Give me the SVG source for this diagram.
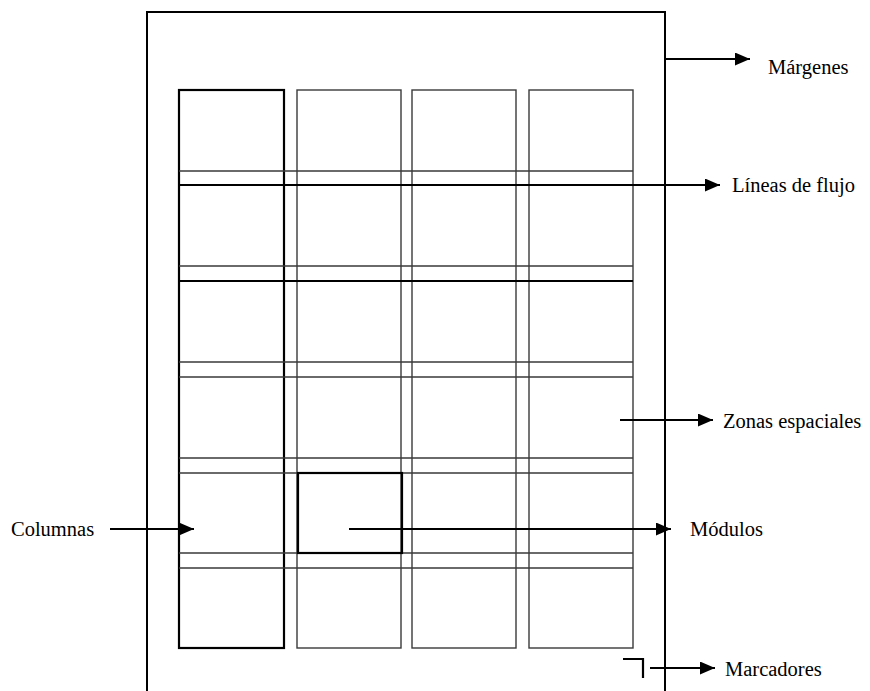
<svg xmlns="http://www.w3.org/2000/svg" width="870" height="691" viewBox="0 0 870 691">
<style>
.bg{fill:#fff}
.thin{fill:none;stroke:#3a3a3a;stroke-width:1.4}
.thick{fill:none;stroke:#000;stroke-width:2.2}
.frame{fill:none;stroke:#000;stroke-width:2}
.conn{fill:none;stroke:#000;stroke-width:2}
.lbl{font-family:"Liberation Serif","Times New Roman",serif;font-size:20.5px;fill:#000}
</style>
<defs>
<marker id="ah" markerWidth="15" markerHeight="13" refX="15" refY="6.5" orient="auto" markerUnits="userSpaceOnUse">
<path d="M0,0 L15,6.5 L0,13 Z" fill="#000"/>
</marker>
</defs>
<rect class="bg" x="0" y="0" width="870" height="691"/>
<g id="margin-frame">
<path class="frame" d="M147,691 L147,12 L665,12 L665,691"/>
</g>
<g id="grid">
<g id="column-1"><rect class="thick" x="179" y="90" width="105" height="558"/></g>
<g id="column-2"><rect class="thin" x="297" y="90" width="104" height="558"/></g>
<g id="column-3"><rect class="thin" x="412" y="90" width="104" height="558"/></g>
<g id="column-4"><rect class="thin" x="529" y="90" width="104" height="558"/></g>
<g id="row-lines">
<path class="thin" d="M179,171H633 M179,266H633 M179,362H633 M179,377H633 M179,458H633 M179,473H633 M179,553H633 M179,568H633"/>
<path class="thick" d="M179,281H633"/>
</g>
<g id="module"><rect class="thick" x="298" y="473" width="104" height="80"/></g>
<g id="marker"><path class="thick" d="M623,659H643V678"/></g>
</g>
<g id="connectors">
<line class="conn" x1="665" y1="59" x2="750" y2="59" marker-end="url(#ah)"/>
<line class="thick" x1="179" y1="185" x2="720" y2="185" marker-end="url(#ah)"/>
<line class="conn" x1="620" y1="420" x2="713" y2="420" marker-end="url(#ah)"/>
<line class="conn" x1="110" y1="529" x2="194" y2="529" marker-end="url(#ah)"/>
<line class="conn" x1="349" y1="529" x2="671" y2="529" marker-end="url(#ah)"/>
<line class="conn" x1="650" y1="668" x2="715" y2="668" marker-end="url(#ah)"/>
</g>
<g id="labels">
<g id="label-margenes"><text class="lbl" x="768" y="74">Márgenes</text></g>
<g id="label-lineas"><text class="lbl" x="732" y="192">Líneas de flujo</text></g>
<g id="label-zonas"><text class="lbl" x="723" y="428">Zonas espaciales</text></g>
<g id="label-columnas"><text class="lbl" x="11" y="536">Columnas</text></g>
<g id="label-modulos"><text class="lbl" x="690" y="536">Módulos</text></g>
<g id="label-marcadores"><text class="lbl" x="725" y="676">Marcadores</text></g>
</g>
</svg>
